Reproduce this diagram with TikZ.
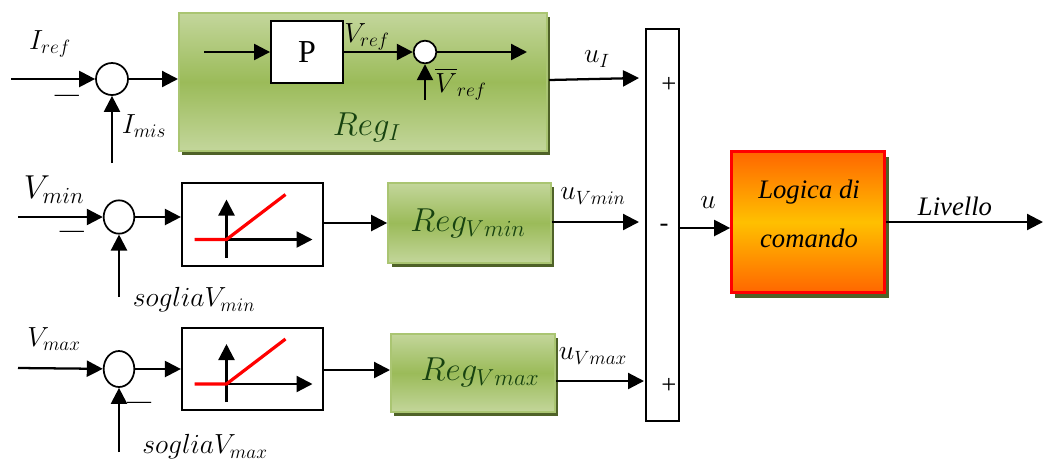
\documentclass[tikz,border=0pt]{standalone}
\usepackage{fontspec}
\setmainfont{Liberation Serif}
\usepackage{xcolor}
\usepackage{tikz}
\usetikzlibrary{arrows.meta}
\usetikzlibrary{shadows}
\usetikzlibrary{shapes.geometric}
\definecolor{darkshadow}{HTML}{4F6228}
\definecolor{lightgreen}{HTML}{C3D69B}
\definecolor{midgreen}{HTML}{9BBB59}
\definecolor{darktext}{HTML}{174210}
\definecolor{darkorange}{HTML}{FF6600}
\definecolor{midorange}{HTML}{FFC000}
\begin{document}
\begin{tikzpicture}[x=0.75pt,y=-0.75pt,>={Triangle[length=12pt,width=12pt]},
	wire/.style={->,line width=1.7pt},
	sum node/.style={circle, draw, fill=white, line width=1.3pt, inner sep=0pt},
	oval node/.style={ellipse, draw, fill=white, line width=1.3pt, inner sep=0pt},
	white box/.style={rectangle, draw, fill=white, line width=1.4pt, inner sep=0pt},
	green box/.style={rectangle, draw=midgreen!85!white, line width=1.5pt, inner sep=0pt, top color=lightgreen, bottom color=lightgreen, middle color=midgreen,
		general shadow={shadow xshift=2.5pt, shadow yshift=-3pt, fill=darkshadow}},
	orange box/.style={rectangle, draw=red, line width=1.8pt, inner sep=0pt, top color=darkorange, bottom color=darkorange, middle color=midorange,
		general shadow={shadow xshift=3pt, shadow yshift=-4pt, fill=darkshadow}},
	lab/.style={inner sep=0pt, font=\fontsize{20}{22}\selectfont},
	reg lab/.style={inner sep=0pt, text=darktext, font=\fontsize{23}{25}\selectfont},
	dash sign/.style={inner sep=0pt, font=\fontsize{18}{20}\selectfont},
	sign/.style={inner sep=0pt, font=\fontsize{20}{22}\selectfont}]
	\useasboundingbox (0,0) rectangle (1043,462);
	
	% Nodes
	\node [green box, minimum width=276pt, minimum height=103pt] (regI) at (363,82) {};
	\node [white box, minimum width=54pt, minimum height=46pt, font=\fontsize{24}{26}\selectfont] (P) at (307,52) {P};
	\node [sum node, minimum size=24pt] (sum1) at (112,79) {};
	\node [sum node, minimum size=17pt] (sum2) at (425,52) {};
	\node [oval node, minimum width=23pt, minimum height=25pt] (sum3) at (119,217) {};
	\node [oval node, minimum width=23pt, minimum height=27pt] (sum4) at (119,369) {};
	\node [white box, minimum width=106pt, minimum height=62pt] (sat1) at (252.5,224.5) {};
	\node [white box, minimum width=106pt, minimum height=62pt] (sat2) at (252.5,369) {};
	\node [green box, minimum width=122pt, minimum height=60pt] (regmin) at (469.5,223) {};
	\node [green box, minimum width=123pt, minimum height=59pt] (regmax) at (473,373) {};
	\node [white box, minimum width=25pt, minimum height=294pt] (mix) at (662.5,225) {};
	\node [orange box, minimum width=115pt, minimum height=106pt] (logic) at (808,222) {};
	
	% Free ends
	\coordinate (iref) at (11,79);
	\coordinate (imis) at (112,163);
	\coordinate (pin) at (204,52);
	\coordinate (sumout) at (527,52);
	\coordinate (vbar) at (425,100);
	\coordinate (vmin) at (18,217);
	\coordinate (smin) at (119,297);
	\coordinate (vmax) at (18,368);
	\coordinate (smax) at (119,452);
	\coordinate (regIout) at (549,80);
	\coordinate (uI) at (639,78);
	\coordinate (uVmin) at (639,222);
	\coordinate (uVmax) at (644,381);
	\coordinate (livello) at (1043,222);
	
	% Connectors
	\draw [wire] (iref) -- (sum1);
	\draw [wire] (imis) -- (sum1);
	\draw [wire] (sum1) -- (sum1 -| regI.west);
	\draw [wire] (pin) -- (P);
	\draw [wire] (P) -- (sum2);
	\draw [wire] (sum2) -- (sumout);
	\draw [wire] (vbar) -- (sum2);
	\draw [wire] (regIout) -- (uI);
	\draw [wire] (vmin) -- (sum3);
	\draw [wire] (smin) -- (sum3);
	\draw [wire] (sum3) -- (sum3 -| sat1.west);
	\draw [wire] (sat1.east |- regmin) -- (regmin);
	\draw [wire] (regmin.east |- uVmin) -- (uVmin);
	\draw [wire] (vmax) -- (sum4);
	\draw [wire] (smax) -- (sum4);
	\draw [wire] (sum4) -- (sum4 -| sat2.west);
	\draw [wire] (sat2.east |- 0,370) -- (regmax.west |- 0,370);
	\draw [wire] (regmax.east |- uVmax) -- (uVmax);
	\draw [wire] (mix.east |- 0,228) -- (logic.west |- 0,228);
	\draw [wire] (logic.east) -- (livello);
	
	% Saturation curves
	\foreach \b in {sat1,sat2}{
		\coordinate (\b o) at ([shift={(-26,15)}]\b.center);
		\coordinate (\b top) at ([shift={(-26,-25)}]\b.center);
		\coordinate (\b bot) at ([shift={(-26,33)}]\b.center);
		\coordinate (\b left) at ([shift={(-58,15)}]\b.center);
		\coordinate (\b right) at ([shift={(60,15)}]\b.center);
		\coordinate (\b end) at ([shift={(33,-30)}]\b.center);
		\draw [wire] (\b bot) -- (\b top);
		\draw [wire] (\b left) -- (\b right);
		\draw [red, line width=2.4pt] (\b left) -- (\b o) -- (\b end);
	}
	
	% Labels
	\node [lab] (l1) at (50,44) {$I_{ref}$};
	\node [lab] (l2) at (144,126) {$I_{mis}$};
	\node [lab] (l3) at (367,37) {$V_{ref}$};
	\node [lab] (l4) at (461,84) {$\overline{\rule{0pt}{16pt}V}_{ref}$};
	\node [reg lab] (l5) at (367,127) {$Reg_{I}$};
	\node [lab] (l6) at (597,59) {$u_{I}$};
	\node [lab, font=\fontsize{25}{27}\selectfont] (l7) at (54,190) {$V_{min}$};
	\node [lab] (l8) at (194,300) {$sogliaV_{min}$};
	\node [lab] (l9) at (54,339) {$V_{max}$};
	\node [lab] (l10) at (205,447) {$sogliaV_{max}$};
	\node [lab] (l11) at (593,196) {$u_{Vmin}$};
	\node [lab] (l12) at (593,356) {$u_{Vmax}$};
	\node [reg lab] (l13) at (468,223) {$Reg_{Vmin}$};
	\node [reg lab] (l14) at (480,372) {$Reg_{Vmax}$};
	\node [lab] (l15) at (708,203) {$u$};
	\node [lab] (l16) at (809,192) {\textit{Logica di}};
	\node [lab] (l17) at (809,238) {\textit{comando}};
	\node [lab] (l18) at (955,206) {\textit{Livello}};
	
	% Signs
	\node [dash sign] (s1) at (67,98) {---};
	\node [dash sign] (s2) at (72,234) {---};
	\node [dash sign] (s3) at (139,405) {---};
	\node [sign] (s4) at (669,85) {+};
	\node [sign] (s5) at (664,228) {-};
	\node [sign] (s6) at (669,386) {+};
\end{tikzpicture}
\end{document}
